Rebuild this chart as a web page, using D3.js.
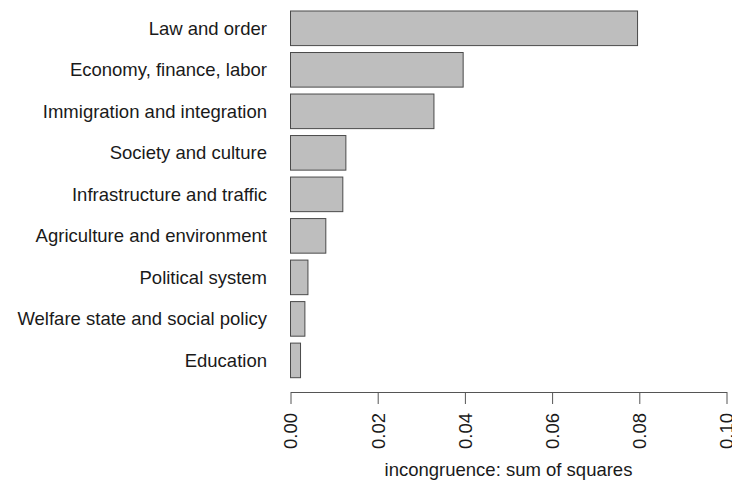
<!DOCTYPE html>
<html>
<head>
<meta charset="utf-8">
<script src="https://cdn.jsdelivr.net/npm/d3@7"></script>
<style>
  body { margin: 0; background: #fff; }
  text { font-family: "Liberation Sans", Arial, sans-serif; }
</style>
</head>
<body>
<div class="box"></div>
<script>
// DATA
const topics = ['Law and order', 'Economy, finance, labor', 'Immigration and integration',
                'Society and culture', 'Infrastructure and traffic', 'Agriculture and environment',
                'Political system', 'Welfare state and social policy', 'Education'];
const incongruence = [0.0796, 0.0396, 0.0329, 0.0127, 0.0120, 0.0081, 0.0040, 0.0033, 0.0023];
const tickValues = [0, 0.02, 0.04, 0.06, 0.08, 0.10];

const myData = topics.map((name, i) => ({name: name, value: incongruence[i]}));

// SETUP
const width = 732, height = 482;
const svg = d3.select('.box')
              .append('svg')
              .attr('width', width)
              .attr('height', height)
              .style('background', '#fff');

// scales
const x = d3.scaleLinear()
            .domain([0, 0.10])
            .range([290.5, 726.5]);

const y = d3.scaleBand()
            .domain(topics)
            .range([11, 377.7])
            .paddingInner(0.2 / 1.2)
            .paddingOuter(0);

// bars
svg.selectAll('rect.bar')
   .data(myData)
   .enter()
   .append('rect')
   .attr('class', 'bar')
   .attr('x', x(0))
   .attr('y', d => y(d.name))
   .attr('width', d => x(d.value) - x(0))
   .attr('height', y.bandwidth())
   .attr('fill', '#bebebe')
   .attr('stroke', '#4a4a4a')
   .attr('stroke-width', 1);

// category labels (no axis line, like R barplot names)
svg.selectAll('text.cat')
   .data(myData)
   .enter()
   .append('text')
   .attr('class', 'cat')
   .attr('x', 267)
   .attr('y', d => y(d.name) + y.bandwidth() / 2)
   .attr('dy', '0.35em')
   .attr('text-anchor', 'end')
   .style('font-size', '18.5px')
   .style('fill', '#1a1a1a')
   .text(d => d.name);

// x axis
const axeX = d3.axisBottom(x)
               .tickValues(tickValues)
               .tickFormat(d3.format('.2f'))
               .tickSizeInner(12)
               .tickSizeOuter(0);

const groupeX = svg.append('g')
                   .attr('transform', 'translate(0, 392)')
                   .call(axeX);

groupeX.select('.domain').attr('stroke', '#555');
groupeX.selectAll('.tick line').attr('stroke', '#555');
groupeX.selectAll('.tick text')
       .attr('transform', 'rotate(-90)')
       .attr('x', -21)
       .attr('y', 0)
       .attr('dy', '0.35em')
       .attr('text-anchor', 'end')
       .style('font-family', '"Liberation Sans", Arial, sans-serif')
       .style('font-size', '18.5px')
       .style('fill', '#1a1a1a');

// axis title
svg.append('text')
   .attr('x', (x(0) + x(0.10)) / 2)
   .attr('y', 476)
   .attr('text-anchor', 'middle')
   .style('font-size', '18.5px')
   .style('fill', '#1a1a1a')
   .text('incongruence: sum of squares');
</script>
</body>
</html>
